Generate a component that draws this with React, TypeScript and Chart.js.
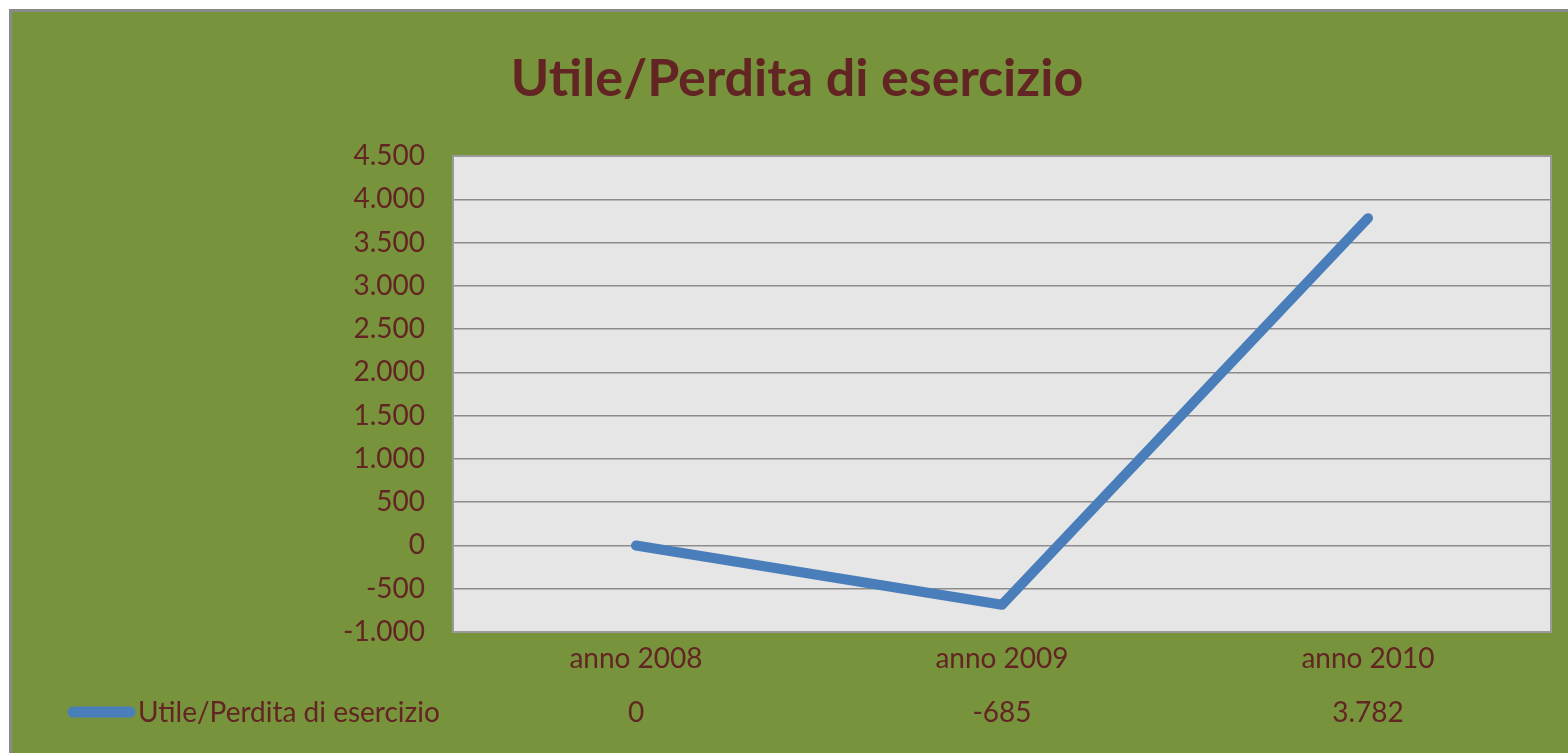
import React, { useEffect, useRef } from "react";
import { Chart, registerables } from "chart.js";

Chart.register(...registerables);

const chartTitle = "Utile/Perdita di esercizio";
const categories = ["anno 2008", "anno 2009", "anno 2010"];
const seriesName = "Utile/Perdita di esercizio";
const seriesValues = [0, -685, 3782];
const yMin = -1000;
const yMax = 4500;
const yStep = 500;

const FONT = "Lato, 'Noto Sans', sans-serif";
const TEXT = "#632523";
const BG = "#77933C";
const PLOT = "#E6E6E6";
const GRID = "#8C8C8C";
const FRAME = "#9A9A9A";
const LINE = "#4A7EBB";
const TICK_SIZE = 28;

function fmt(v: number): string {
  const s = Math.abs(Math.round(v))
    .toString()
    .replace(/\B(?=(\d{3})+(?!\d))/g, ".");
  return (v < 0 ? "-" : "") + s;
}

const decor = {
  id: "decor",
  beforeDraw(chart: any) {
    const { ctx, chartArea: a, width, height } = chart;
    ctx.save();
    ctx.fillStyle = BG;
    ctx.fillRect(0, 0, width, height);
    ctx.fillStyle = PLOT;
    ctx.fillRect(a.left, a.top, a.right - a.left, a.bottom - a.top);
    ctx.restore();
  },
  beforeDatasetsDraw(chart: any) {
    const { ctx, chartArea: a } = chart;
    ctx.save();
    ctx.strokeStyle = FRAME;
    ctx.lineWidth = 2;
    ctx.strokeRect(a.left, a.top, a.right - a.left, a.bottom - a.top);
    ctx.restore();
  },
  afterDraw(chart: any) {
    const { ctx } = chart;
    const x = chart.scales.x;
    ctx.save();
    // title
    ctx.fillStyle = TEXT;
    ctx.font = `bold 52px ${FONT}`;
    ctx.textAlign = "center";
    ctx.textBaseline = "alphabetic";
    ctx.fillText(chartTitle, 785, 84);

    // data table row
    const rowBase = 710;
    ctx.font = `${TICK_SIZE}px ${FONT}`;
    ctx.textAlign = "left";
    ctx.fillText(seriesName, 126, rowBase);
    ctx.strokeStyle = LINE;
    ctx.lineWidth = 11;
    ctx.lineCap = "round";
    ctx.beginPath();
    ctx.moveTo(61, 700);
    ctx.lineTo(118, 700);
    ctx.stroke();

    ctx.textAlign = "center";
    seriesValues.forEach((v, i) => {
      ctx.fillText(fmt(v), x.getPixelForValue(i), rowBase);
    });
    ctx.restore();
  },
};

export default function App() {
  const ref = useRef<HTMLCanvasElement | null>(null);

  useEffect(() => {
    if (!ref.current) return;
    const chart = new Chart(ref.current, {
      type: "line",
      data: {
        labels: categories,
        datasets: [
          {
            label: seriesName,
            data: seriesValues,
            borderColor: LINE,
            backgroundColor: LINE,
            borderWidth: 10,
            borderCapStyle: "round",
            borderJoinStyle: "round",
            pointRadius: 0,
            tension: 0,
          },
        ],
      },
      options: {
        responsive: false,
        animation: false,
        devicePixelRatio: 1,
        layout: { padding: { top: 144, left: 0, right: 17, bottom: 0 } },
        plugins: {
          legend: { display: false },
          title: { display: false },
          tooltip: { enabled: false },
        },
        scales: {
          x: {
            offset: true,
            grid: { display: false, drawTicks: false },
            border: { display: false },
            ticks: {
              color: TEXT,
              font: { family: FONT, size: TICK_SIZE },
              padding: 10,
              maxRotation: 0,
            },
            afterFit: (s: any) => {
              s.height = 121;
            },
          },
          y: {
            min: yMin,
            max: yMax,
            grid: { color: GRID, lineWidth: 1.5, drawTicks: false },
            border: { display: false },
            ticks: {
              stepSize: yStep,
              color: TEXT,
              font: { family: FONT, size: TICK_SIZE },
              padding: 28,
              callback: (v: any) => fmt(Number(v)),
            },
            afterFit: (s: any) => {
              s.width = 441;
            },
          },
        },
      },
      plugins: [decor],
    });
    return () => chart.destroy();
  }, []);

  return (
    <div
      style={{
        position: "absolute",
        left: 0,
        top: 0,
        width: 1568,
        height: 753,
        background: "#ffffff",
        overflow: "hidden",
      }}
    >
      <div
        style={{
          position: "absolute",
          left: 9,
          top: 9,
          width: 1559,
          height: 744,
          boxSizing: "border-box",
          borderTop: "3px solid #8a8a8a",
          borderLeft: "3px solid #8a8a8a",
          background: BG,
        }}
      >
        <canvas ref={ref} width={1556} height={741} style={{ display: "block", width: 1556, height: 741 }} />
      </div>
    </div>
  );
}
